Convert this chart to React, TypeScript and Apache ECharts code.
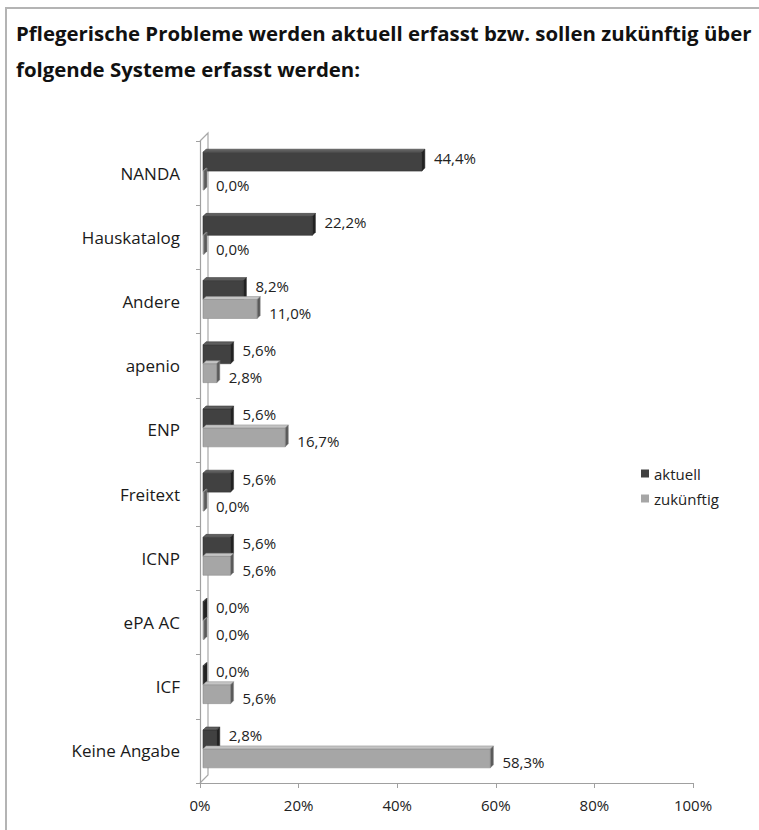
import React, { useEffect, useRef } from "react";
import * as echarts from "echarts";

const titleLines = [
  "Pflegerische Probleme werden aktuell erfasst bzw. sollen zukünftig über",
  "folgende Systeme erfasst werden:",
];
const categories = [
  "NANDA",
  "Hauskatalog",
  "Andere",
  "apenio",
  "ENP",
  "Freitext",
  "ICNP",
  "ePA AC",
  "ICF",
  "Keine Angabe",
];
const seriesNames = ["aktuell", "zukünftig"];
const aktuell = [44.4, 22.2, 8.2, 5.6, 5.6, 5.6, 5.6, 0.0, 0.0, 2.8];
const zukuenftig = [0.0, 0.0, 11.0, 2.8, 16.7, 0.0, 5.6, 0.0, 5.6, 58.3];
const xTicks = [0, 20, 40, 60, 80, 100];

const FONT = "'Open Sans', 'Noto Sans', sans-serif";

const palettes = [
  { front: "#414141", top: "#5e5e5e", side: "#222222", stroke: "#333333" },
  { front: "#a6a6a6", top: "#c4c4c4", side: "#5a5a5a", stroke: "#8c8c8c" },
];

function fmt(v: number) {
  return v.toFixed(1).replace(".", ",") + "%";
}

function makeRender(seriesIdx: number) {
  return (params: any, api: any) => {
    const v = api.value(0);
    const cat = api.value(1);
    const p0 = api.coord([0, cat]);
    const p1 = api.coord([v, cat]);
    const band = api.size([0, 1])[1];
    const bh = band * 0.295;
    const c = p0[1] - 2;
    const yT = seriesIdx === 0 ? c - bh : c;
    const yB = yT + bh;
    const off = 3;
    const dx = 3;
    const dy = -3;
    const x0 = p0[0] + off;
    const x1 = Math.max(p1[0] + off, x0 + 1);
    const pal = palettes[seriesIdx];
    const labelY = seriesIdx === 0 ? (yT + yB) / 2 - 4 : (yT + yB) / 2 + 4;
    return {
      type: "group",
      children: [
        {
          type: "rect",
          shape: { x: x0, y: yT, width: x1 - x0, height: bh },
          style: { fill: pal.front, stroke: pal.stroke, lineWidth: 0.6 },
        },
        {
          type: "polygon",
          shape: {
            points: [
              [x0, yT],
              [x1, yT],
              [x1 + dx, yT + dy],
              [x0 + dx, yT + dy],
            ],
          },
          style: { fill: pal.top, stroke: pal.stroke, lineWidth: 0.5 },
        },
        {
          type: "polygon",
          shape: {
            points: [
              [x1, yT],
              [x1 + dx, yT + dy],
              [x1 + dx, yB + dy],
              [x1, yB],
            ],
          },
          style: { fill: pal.side, stroke: pal.stroke, lineWidth: 0.5 },
        },
        {
          type: "text",
          style: {
            x: x1 + dx + 9,
            y: labelY,
            text: fmt(v),
            fill: "#222222",
            font: `15px ${FONT}`,
            verticalAlign: "middle",
            align: "left",
          },
        },
      ],
    };
  };
}

export default function App() {
  const ref = useRef<HTMLDivElement>(null);
  useEffect(() => {
    document.body.style.margin = "0";
    if (!ref.current) return;
    const chart = echarts.init(ref.current, null, { renderer: "svg" });
    const datasets = [aktuell, zukuenftig];
    const option: any = {
      animation: false,
      backgroundColor: "#ffffff",
      grid: { left: 200, right: 66, top: 141, bottom: 47 },
      legend: {
        orient: "vertical",
        left: 636,
        top: 461,
        icon: "rect",
        itemWidth: 8,
        itemHeight: 8,
        itemGap: 10,
        data: seriesNames,
        textStyle: { fontFamily: FONT, fontSize: 15, color: "#222" },
      },
      xAxis: {
        type: "value",
        min: 0,
        max: 100,
        interval: 20,
        axisLine: { show: true, lineStyle: { color: "#a0a0a0", width: 1.2 } },
        axisTick: { show: true, length: 5, lineStyle: { color: "#a0a0a0" } },
        splitLine: { show: false },
        axisLabel: {
          formatter: (v: number) => (xTicks.includes(v) ? v + "%" : ""),
          fontFamily: FONT,
          fontSize: 15,
          color: "#222",
          margin: 14,
        },
      },
      yAxis: {
        type: "category",
        inverse: true,
        data: categories,
        axisLine: { show: true, lineStyle: { color: "#a0a0a0", width: 1.2 } },
        axisTick: { show: true, length: 4, lineStyle: { color: "#a0a0a0" } },
        axisLabel: {
          fontFamily: FONT,
          fontSize: 17,
          color: "#1a1a1a",
          margin: 20,
        },
      },
      series: [0, 1].map((i) => ({
        name: seriesNames[i],
        type: "custom",
        renderItem: makeRender(i),
        itemStyle: { color: palettes[i].front },
        encode: { x: 0, y: 1 },
        data: datasets[i].map((v, k) => [v, k]),
        z: 3,
      })),
      graphic: [
        {
          type: "rect",
          shape: { x: 6, y: 8, width: 900, height: 1000 },
          style: { fill: "none", stroke: "#b4b4b4", lineWidth: 2 },
          silent: true,
        },
        ...titleLines.map((t, i) => ({
          type: "text",
          left: 16,
          top: 23 + i * 36,
          style: {
            text: t,
            font: `bold 20.4px ${FONT}`,
            fill: "#111111",
          },
        })),
      ],
    };
    chart.setOption(option);
    const tl = chart.convertToPixel({ xAxisIndex: 0, yAxisIndex: 0 }, [0, 0]) as number[];
    const fl = chart.convertToPixel({ xAxisIndex: 0, yAxisIndex: 0 }, [0, categories.length - 1]) as number[];
    const band = (fl[1] - tl[1]) / (categories.length - 1);
    const top = tl[1] - band / 2;
    const bottom = fl[1] + band / 2;
    const x = tl[0];
    const d = 8;
    chart.setOption({
      graphic: [
        ...option.graphic,
        {
          type: "polyline",
          silent: true,
          shape: {
            points: [
              [x, top],
              [x + d, top - d],
              [x + d, bottom - d],
              [x, bottom],
            ],
          },
          style: { fill: "none", stroke: "#a8a8a8", lineWidth: 1.2 },
        },
      ],
    });
    return () => chart.dispose();
  }, []);
  return <div ref={ref} style={{ width: 759, height: 830 }} />;
}
